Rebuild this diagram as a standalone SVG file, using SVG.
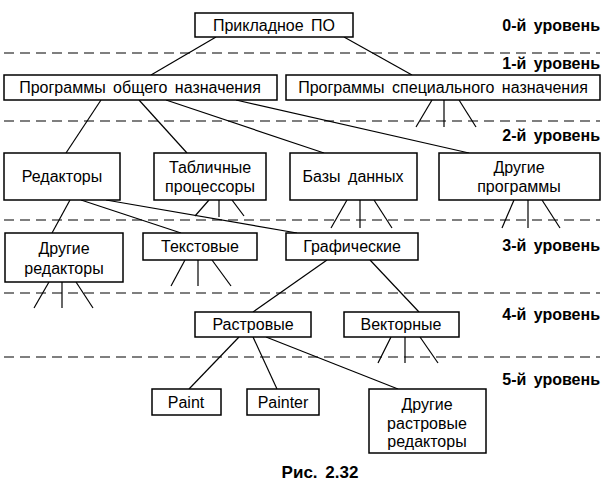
<svg xmlns="http://www.w3.org/2000/svg" width="605" height="491" viewBox="0 0 605 491">
<style>
rect{fill:#fff;stroke:#000;stroke-width:1.5}
text{font-family:"Liberation Sans",Arial,sans-serif;font-size:16px;text-anchor:middle;word-spacing:3px}
.lv{font-weight:bold;text-anchor:end;font-size:16px}
.c line{stroke:#000;stroke-width:1.2}
.d line{stroke:#000;stroke-width:1.2;stroke-dasharray:10 6}
</style>
<rect x="0" y="0" width="605" height="491" style="stroke:none"/>
<g class="d">
<line x1="4" y1="53" x2="600" y2="53"/><line x1="4" y1="121" x2="600" y2="121"/><line x1="4" y1="220" x2="600" y2="220"/><line x1="4" y1="293" x2="600" y2="293"/><line x1="4" y1="357" x2="600" y2="357"/>
</g>
<g id="levels">
<text class="lv" x="600" y="31">0-й уровень</text>
<text class="lv" x="600" y="69">1-й уровень</text>
<text class="lv" x="600" y="141">2-й уровень</text>
<text class="lv" x="600" y="251">3-й уровень</text>
<text class="lv" x="600" y="320">4-й уровень</text>
<text class="lv" x="600" y="385">5-й уровень</text>
</g>
<g class="c" id="connectors">
<line x1="216" y1="37" x2="151" y2="75"/><line x1="344" y1="37" x2="412" y2="75"/>
<line x1="432" y1="100" x2="416" y2="127"/><line x1="444" y1="100" x2="444" y2="127"/><line x1="459" y1="100" x2="476" y2="127"/>
<line x1="101" y1="100" x2="66" y2="153"/><line x1="139" y1="100" x2="187" y2="153"/><line x1="166" y1="100" x2="324" y2="153"/><line x1="236" y1="100" x2="469" y2="153"/>
<line x1="209" y1="200" x2="195" y2="216"/><line x1="219" y1="200" x2="219" y2="217"/><line x1="232" y1="200" x2="244" y2="216"/>
<line x1="347" y1="200" x2="331" y2="228"/><line x1="360" y1="200" x2="360" y2="228"/><line x1="374" y1="200" x2="392" y2="228"/>
<line x1="514" y1="200" x2="502" y2="228"/><line x1="528" y1="200" x2="528" y2="228"/><line x1="542" y1="200" x2="560" y2="228"/>
<line x1="70" y1="200" x2="52" y2="233"/><line x1="81" y1="200" x2="181" y2="233"/><line x1="106" y1="200" x2="297" y2="233"/>
<line x1="185" y1="260" x2="171" y2="286"/><line x1="198" y1="260" x2="198" y2="286"/><line x1="212" y1="260" x2="231" y2="286"/>
<line x1="49" y1="282" x2="34" y2="308"/><line x1="62" y1="282" x2="62" y2="308"/><line x1="76" y1="282" x2="93" y2="308"/>
<line x1="327" y1="260" x2="253" y2="312"/><line x1="370" y1="260" x2="419" y2="312"/>
<line x1="391" y1="337" x2="378" y2="363"/><line x1="405" y1="337" x2="405" y2="363"/><line x1="420" y1="337" x2="438" y2="363"/>
<line x1="239" y1="337" x2="189" y2="389"/><line x1="253" y1="337" x2="277" y2="389"/><line x1="266" y1="337" x2="398" y2="389"/>
</g>
<g id="n0"><rect x="195" y="13" width="158" height="24"/><text x="274" y="31">Прикладное ПО</text></g>
<g id="n1a"><rect x="4" y="75" width="273" height="25"/><text x="140" y="93">Программы общего назначения</text></g>
<g id="n1b"><rect x="286" y="75" width="314" height="25"/><text x="443" y="93">Программы специального назначения</text></g>
<g id="n2a"><rect x="4" y="153" width="116" height="47"/><text x="62" y="182">Редакторы</text></g>
<g id="n2b"><rect x="154" y="153" width="112" height="47"/><text x="210" y="173">Табличные</text><text x="210" y="192">процессоры</text></g>
<g id="n2c"><rect x="290" y="153" width="127" height="47"/><text x="353" y="182">Базы данных</text></g>
<g id="n2d"><rect x="439" y="153" width="161" height="47"/><text x="519" y="173">Другие</text><text x="519" y="192">программы</text></g>
<g id="n3a"><rect x="5" y="233" width="118" height="49"/><text x="64" y="254">Другие</text><text x="64" y="274">редакторы</text></g>
<g id="n3b"><rect x="143" y="233" width="114" height="27"/><text x="200" y="252">Текстовые</text></g>
<g id="n3c"><rect x="286" y="233" width="132" height="27"/><text x="352" y="252">Графические</text></g>
<g id="n4a"><rect x="195" y="312" width="116" height="25"/><text x="253" y="330">Растровые</text></g>
<g id="n4b"><rect x="344" y="312" width="115" height="25"/><text x="401" y="330">Векторные</text></g>
<g id="n5a"><rect x="152" y="389" width="69" height="26"/><text x="186" y="408">Paint</text></g>
<g id="n5b"><rect x="247" y="389" width="72" height="26"/><text x="283" y="408">Painter</text></g>
<g id="n5c"><rect x="369" y="389" width="117" height="64"/><text x="427" y="410">Другие</text><text x="427" y="429">растровые</text><text x="427" y="447">редакторы</text></g>
<text x="320" y="478" style="font-weight:bold;font-size:17px">Рис. 2.32</text>
</svg>
